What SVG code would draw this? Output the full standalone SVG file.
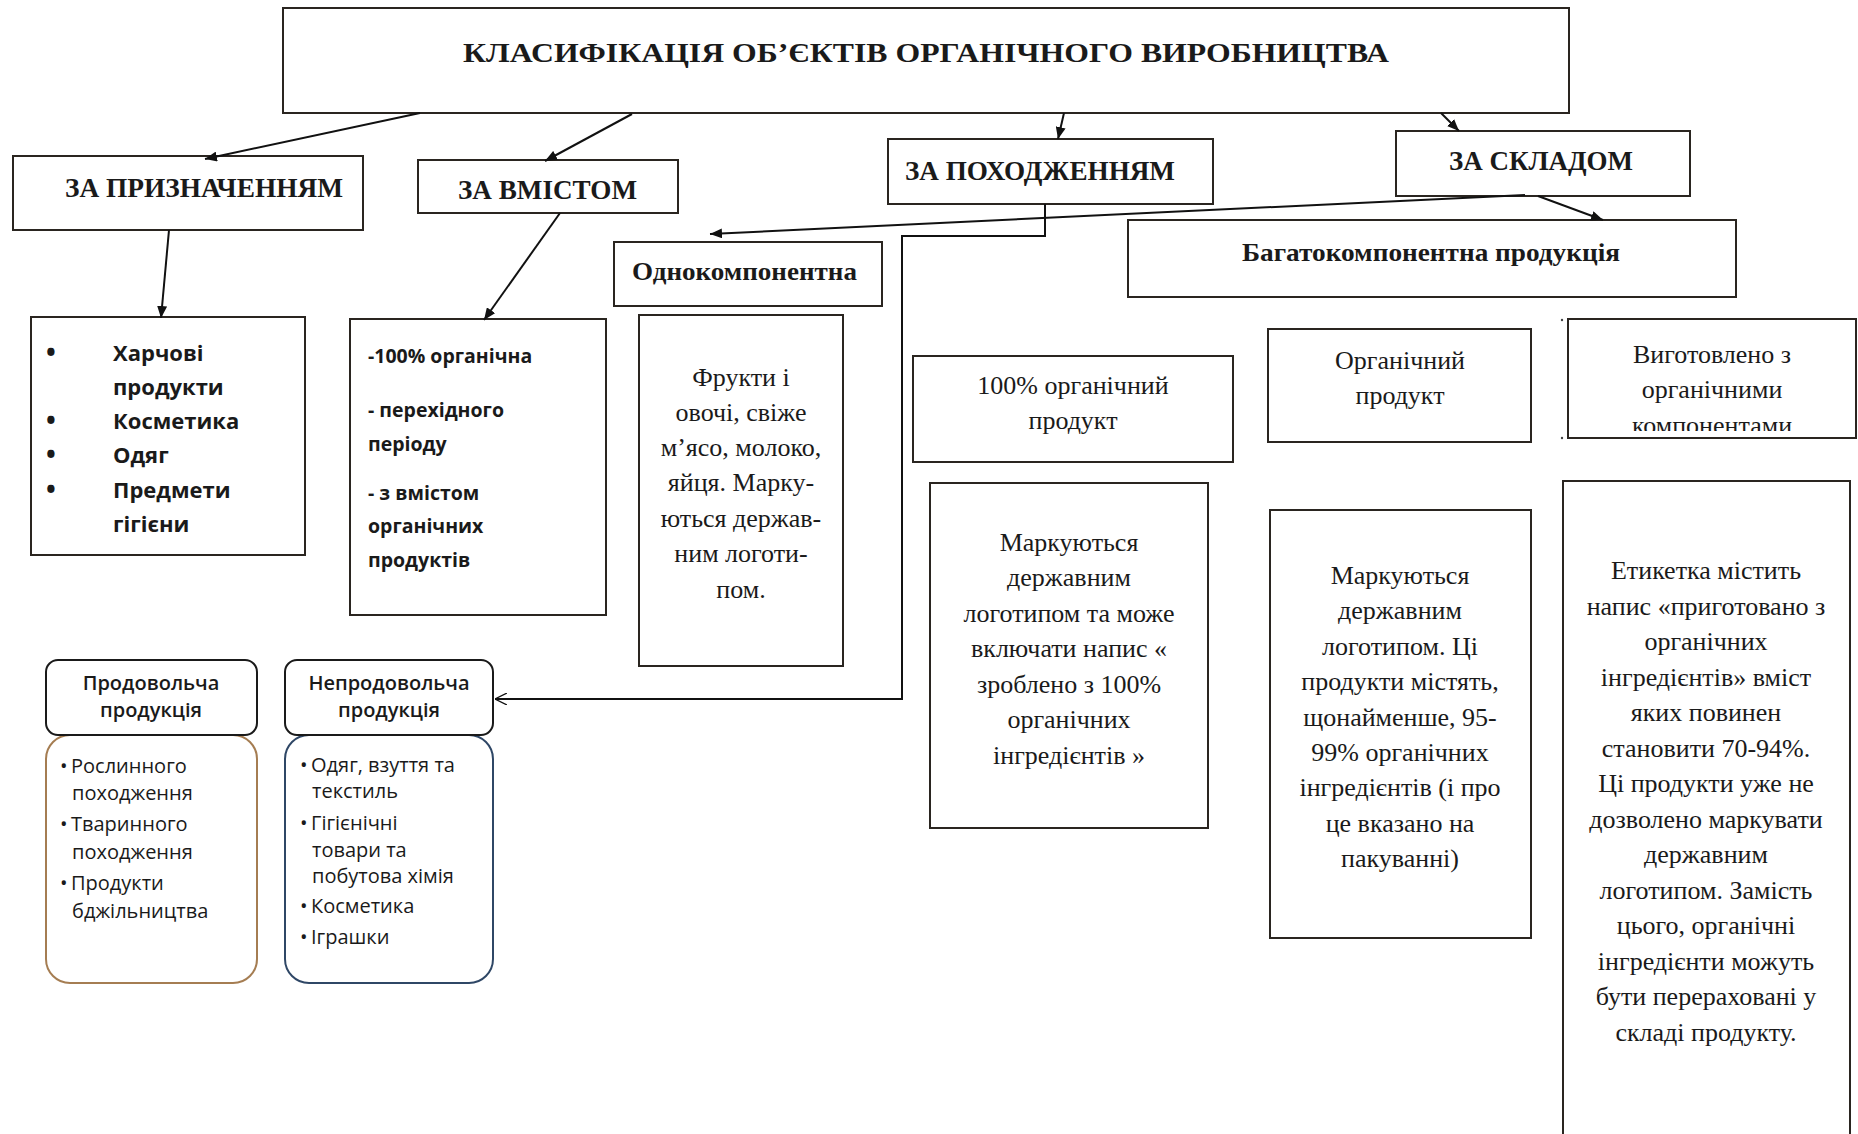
<svg xmlns="http://www.w3.org/2000/svg" width="1858" height="1134" viewBox="0 0 1858 1134">
<style>
  .box{fill:#fff;stroke:#2a2520;stroke-width:2}
  .hd{font-family:"Liberation Serif","Times New Roman",serif;font-weight:bold;fill:#1a1a1a}
  .sr{font-family:"Liberation Serif","Times New Roman",serif;font-size:26px;fill:#1a1a1a;text-anchor:middle}
  .sb{font-family:"Open Sans","Noto Sans",sans-serif;font-weight:bold;fill:#1a1a1a}
  .sn{font-family:"Open Sans","Noto Sans",sans-serif;fill:#1a1a1a;font-size:20px}
  .sh{font-family:"Open Sans","Noto Sans",sans-serif;fill:#1a1a1a;font-size:20px;font-weight:600;text-anchor:middle}
  .ln{fill:none;stroke:#111;stroke-width:2}
</style>
<defs>
  <marker id="ah" viewBox="0 0 12 10" refX="12" refY="5" markerWidth="12" markerHeight="10" markerUnits="userSpaceOnUse" orient="auto">
    <path d="M0,0 L12,5 L0,10 z" fill="#111"/>
  </marker>
  <marker id="oa" viewBox="0 0 12 12" refX="12" refY="6" markerWidth="12" markerHeight="12" markerUnits="userSpaceOnUse" orient="auto">
    <path d="M0,0 L12,6 L0,12" fill="none" stroke="#111" stroke-width="1.3"/>
  </marker>
  <clipPath id="clipV"><rect x="1569" y="320" width="287" height="111"/></clipPath>
</defs>
<rect width="1858" height="1134" fill="#fff"/>

<g id="title">
  <rect class="box" x="283" y="8" width="1286" height="105"/>
  <text class="hd" x="463" y="62" font-size="28" textLength="926" lengthAdjust="spacingAndGlyphs">КЛАСИФІКАЦІЯ ОБ’ЄКТІВ ОРГАНІЧНОГО ВИРОБНИЦТВА</text>
</g>

<g id="za-pryznachenniam">
  <rect class="box" x="13" y="156" width="350" height="74"/>
  <text class="hd" x="65" y="197" font-size="27" textLength="278" lengthAdjust="spacingAndGlyphs">ЗА ПРИЗНАЧЕННЯМ</text>
</g>

<g id="za-vmistom">
  <rect class="box" x="418" y="160" width="260" height="53"/>
  <text class="hd" x="458" y="199" font-size="27" textLength="179" lengthAdjust="spacingAndGlyphs">ЗА ВМІСТОМ</text>
</g>

<g id="za-pokhodzhenniam">
  <rect class="box" x="888" y="139" width="325" height="65"/>
  <text class="hd" x="905" y="180" font-size="27" textLength="270" lengthAdjust="spacingAndGlyphs">ЗА ПОХОДЖЕННЯМ</text>
</g>

<g id="za-skladom">
  <rect class="box" x="1396" y="131" width="294" height="65"/>
  <text class="hd" x="1449" y="170" font-size="27" textLength="184" lengthAdjust="spacingAndGlyphs">ЗА СКЛАДОМ</text>
</g>

<g id="odnokomponentna">
  <rect class="box" x="614" y="242" width="268" height="64"/>
  <text class="hd" x="632" y="280" font-size="26" textLength="225" lengthAdjust="spacingAndGlyphs">Однокомпонентна</text>
</g>

<g id="bahatokomponentna">
  <rect class="box" x="1128" y="220" width="608" height="77"/>
  <text class="hd" x="1242" y="261" font-size="26" textLength="378" lengthAdjust="spacingAndGlyphs">Багатокомпонентна продукція</text>
</g>

<g id="pryznachennia-list">
  <rect class="box" x="31" y="317" width="274" height="238"/>
  <g class="sb" font-size="22">
    <text x="46" y="362" font-size="26">•</text><text x="113" y="361">Харчові</text>
    <text x="113" y="395">продукти</text>
    <text x="46" y="430" font-size="26">•</text><text x="113" y="429">Косметика</text>
    <text x="46" y="464" font-size="26">•</text><text x="113" y="463">Одяг</text>
    <text x="46" y="499" font-size="26">•</text><text x="113" y="498">Предмети</text>
    <text x="113" y="532">гігієни</text>
  </g>
</g>

<g id="vmist-list">
  <rect class="box" x="350" y="319" width="256" height="296"/>
  <g class="sb" font-size="19.5">
    <text x="368" y="363">-100% органічна</text>
    <text x="368" y="417">- перехідного</text>
    <text x="368" y="451">періоду</text>
    <text x="368" y="500">- з вмістом</text>
    <text x="368" y="533">органічних</text>
    <text x="368" y="567">продуктів</text>
  </g>
</g>

<g id="frukty">
  <rect class="box" x="639" y="315" width="204" height="351"/>
  <g class="sr">
    <text x="741" y="386">Фрукти і</text>
    <text x="741" y="421">овочі, свіже</text>
    <text x="741" y="456">м’ясо, молоко,</text>
    <text x="741" y="491">яйця. Марку-</text>
    <text x="741" y="527">ються держав-</text>
    <text x="741" y="562">ним логоти-</text>
    <text x="741" y="598">пом.</text>
  </g>
</g>

<g id="organic-100">
  <rect class="box" x="913" y="356" width="320" height="106"/>
  <g class="sr">
    <text x="1073" y="394">100% органічний</text>
    <text x="1073" y="429">продукт</text>
  </g>
</g>

<g id="organic-100-desc">
  <rect class="box" x="930" y="483" width="278" height="345"/>
  <g class="sr">
    <text x="1069" y="551">Маркуються</text>
    <text x="1069" y="586">державним</text>
    <text x="1069" y="622">логотипом та може</text>
    <text x="1069" y="657">включати напис «</text>
    <text x="1069" y="693">зроблено з 100%</text>
    <text x="1069" y="728">органічних</text>
    <text x="1069" y="764">інгредієнтів »</text>
  </g>
</g>

<g id="organic-product">
  <rect class="box" x="1268" y="329" width="263" height="113"/>
  <g class="sr">
    <text x="1400" y="369">Органічний</text>
    <text x="1400" y="404">продукт</text>
  </g>
</g>

<g id="organic-product-desc">
  <rect class="box" x="1270" y="510" width="261" height="428"/>
  <g class="sr">
    <text x="1400" y="584">Маркуються</text>
    <text x="1400" y="619">державним</text>
    <text x="1400" y="655">логотипом. Ці</text>
    <text x="1400" y="690">продукти містять,</text>
    <text x="1400" y="726">щонайменше, 95-</text>
    <text x="1400" y="761">99% органічних</text>
    <text x="1400" y="796">інгредієнтів (і про</text>
    <text x="1400" y="832">це вказано на</text>
    <text x="1400" y="867">пакуванні)</text>
  </g>
</g>

<g id="made-with-organic">
  <rect class="box" x="1568" y="319" width="288" height="119"/>
  <circle cx="1562" cy="320" r="1.2" fill="#444"/>
  <circle cx="1562" cy="438" r="1.2" fill="#444"/>
  <g class="sr" clip-path="url(#clipV)">
    <text x="1712" y="363">Виготовлено з</text>
    <text x="1712" y="398">органічними</text>
    <text x="1712" y="434">компонентами</text>
  </g>
</g>

<g id="made-with-organic-desc">
  <rect class="box" x="1563" y="481" width="287" height="700"/>
  <g class="sr">
    <text x="1706" y="579">Етикетка містить</text>
    <text x="1706" y="615">напис «приготовано з</text>
    <text x="1706" y="650">органічних</text>
    <text x="1706" y="686">інгредієнтів» вміст</text>
    <text x="1706" y="721">яких повинен</text>
    <text x="1706" y="757">становити 70-94%.</text>
    <text x="1706" y="792">Ці продукти уже не</text>
    <text x="1706" y="828">дозволено маркувати</text>
    <text x="1706" y="863">державним</text>
    <text x="1706" y="899">логотипом. Замість</text>
    <text x="1706" y="934">цього, органічні</text>
    <text x="1706" y="970">інгредієнти можуть</text>
    <text x="1706" y="1005">бути перераховані у</text>
    <text x="1706" y="1041">складі продукту.</text>
  </g>
</g>

<g id="prodovolcha">
  <rect x="46" y="735" width="211" height="248" rx="24" ry="24" fill="#fff" stroke="#a57d52" stroke-width="2"/>
  <rect x="46" y="660" width="211" height="75" rx="12" ry="12" fill="#fff" stroke="#1a1a1a" stroke-width="2"/>
  <text class="sh" x="151" y="690">Продовольча</text>
  <text class="sh" x="151" y="717">продукція</text>
  <g class="sn">
    <text x="60" y="773">•</text><text x="71" y="773">Рослинного</text>
    <text x="72" y="800">походження</text>
    <text x="60" y="831">•</text><text x="71" y="831">Тваринного</text>
    <text x="72" y="859">походження</text>
    <text x="60" y="890">•</text><text x="71" y="890">Продукти</text>
    <text x="72" y="918">бджільництва</text>
  </g>
</g>

<g id="neprodovolcha">
  <rect x="285" y="735" width="208" height="248" rx="24" ry="24" fill="#fff" stroke="#2f4766" stroke-width="2"/>
  <rect x="285" y="660" width="208" height="75" rx="12" ry="12" fill="#fff" stroke="#1a1a1a" stroke-width="2"/>
  <text class="sh" x="389" y="690">Непродовольча</text>
  <text class="sh" x="389" y="717">продукція</text>
  <g class="sn">
    <text x="300" y="772">•</text><text x="311" y="772">Одяг, взуття та</text>
    <text x="312" y="798">текстиль</text>
    <text x="300" y="830">•</text><text x="311" y="830">Гігієнічні</text>
    <text x="312" y="857">товари та</text>
    <text x="312" y="883">побутова хімія</text>
    <text x="300" y="913">•</text><text x="311" y="913">Косметика</text>
    <text x="300" y="944">•</text><text x="311" y="944">Іграшки</text>
  </g>
</g>

<g id="connectors">
  <line class="ln" x1="420" y1="113" x2="205" y2="159" marker-end="url(#ah)"/>
  <line class="ln" x1="632" y1="114" x2="545" y2="161" marker-end="url(#ah)"/>
  <line class="ln" x1="1064" y1="113" x2="1058" y2="139" marker-end="url(#ah)"/>
  <line class="ln" x1="1441" y1="113" x2="1459" y2="131" marker-end="url(#ah)"/>
  <line class="ln" x1="169" y1="230" x2="161" y2="318" marker-end="url(#ah)"/>
  <line class="ln" x1="560" y1="213" x2="484" y2="320" marker-end="url(#ah)"/>
  <line class="ln" stroke-width="2.5" x1="1525" y1="195" x2="710" y2="234" marker-end="url(#ah)"/>
  <line class="ln" x1="1538" y1="196" x2="1603" y2="220" marker-end="url(#ah)"/>
  <polyline class="ln" points="1045,204 1045,236 902,236 902,699 495,699" marker-end="url(#oa)"/>
</g>
</svg>
